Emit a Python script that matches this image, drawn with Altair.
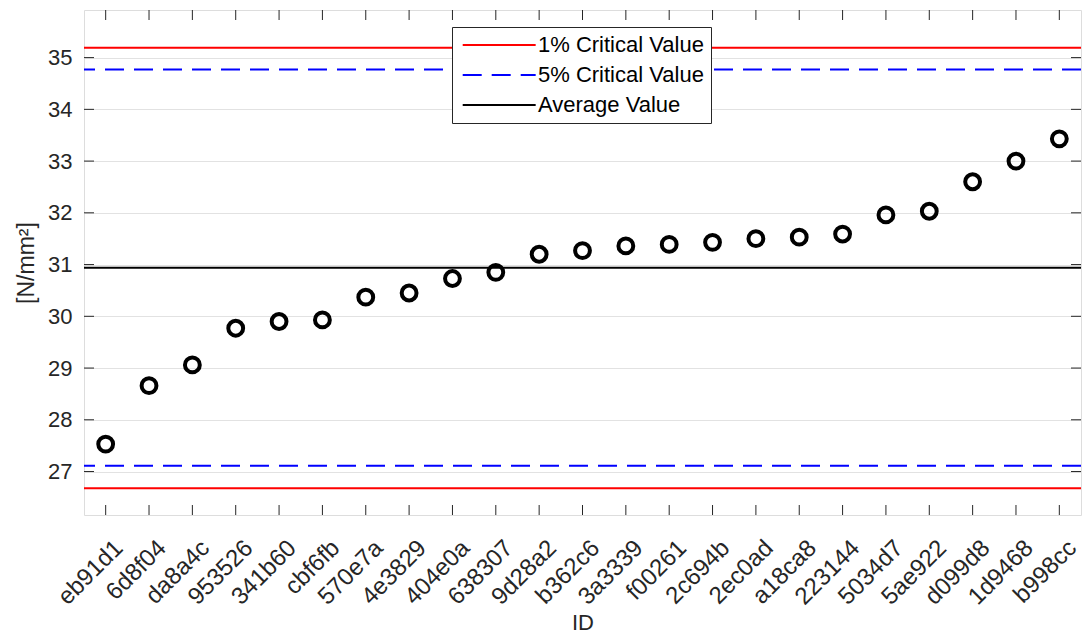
import altair as alt
import pandas as pd

# ---- data ----
ids = ["eb91d1", "6d8f04", "da8a4c", "953526", "341b60", "cbf6fb", "570e7a",
       "4e3829", "404e0a", "638307", "9d28a2", "b362c6", "3a3339", "f00261",
       "2c694b", "2ec0ad", "a18ca8", "223144", "5034d7", "5ae922", "d099d8",
       "1d9468", "b998cc"]
values = [27.53, 28.66, 29.06, 29.77, 29.90, 29.93, 30.37,
          30.45, 30.73, 30.85, 31.20, 31.27, 31.36, 31.39,
          31.43, 31.50, 31.53, 31.59, 31.96, 32.03, 32.60,
          33.00, 33.43]

series_names = ["1% Critical Value", "5% Critical Value", "Average Value"]
crit1 = [35.19, 26.675]
crit5 = [34.77, 27.11]
average = [30.94]
y_ticks = [27, 28, 29, 30, 31, 32, 33, 34, 35]
y_domain = [26.16, 35.92]

# ---- tables ----
pts = pd.DataFrame({"ID": ids, "val": values})
lines = pd.DataFrame({
    "series": [series_names[0]] * len(crit1) + [series_names[1]] * len(crit5)
              + [series_names[2]] * len(average),
    "y": crit1 + crit5 + average,
})
ticks_df = pd.DataFrame({"t": y_ticks})

W, H = 997, 505
FONT = "Liberation Sans"
AX = "#262626"

xscale = alt.Scale(type="point", padding=0.5, domain=ids)
yscale = alt.Scale(domain=y_domain, nice=False, zero=False)

x_enc = alt.X("ID:N", scale=xscale, sort=ids,
              axis=alt.Axis(title="ID", labelAngle=-45, labelAlign="right",
                            labelBaseline="middle", labelPadding=29,
                            labelOffset=13, ticks=False, domain=False,
                            grid=False, labelFontSize=24, titleFontSize=22,
                            labelColor=AX, titleColor=AX, labelFont=FONT,
                            titleFont=FONT, titleFontWeight="normal",
                            titlePadding=3))

y_axis = alt.Axis(title="[N/mm²]", values=y_ticks, ticks=False, domain=False,
                  grid=True, gridColor="#e2e2e2", gridWidth=1,
                  labelFontSize=22, titleFontSize=23, labelPadding=12,
                  labelColor=AX, titleColor=AX, labelFont=FONT, titleFont=FONT,
                  titleFontWeight="normal", titlePadding=9)

ref_lines = alt.Chart(lines).mark_rule(strokeWidth=2).encode(
    y=alt.Y("y:Q", scale=yscale, axis=y_axis),
    color=alt.Color("series:N",
                    scale=alt.Scale(domain=series_names,
                                    range=["#ff0000", "#0000ff", "#000000"]),
                    legend=alt.Legend(title=None, orient="none",
                                      legendX=368, legendY=17,
                                      symbolType="M-1,0H9",
                                      symbolSize=213, symbolStrokeWidth=2,
                                      labelOffset=57, labelFontSize=22,
                                      labelFont=FONT, labelColor="#000000",
                                      rowPadding=8, padding=7,
                                      strokeColor=AX, fillColor="white",
                                      labelLimit=400)),
    strokeDash=alt.StrokeDash("series:N",
                              scale=alt.Scale(domain=series_names,
                                              range=[[1, 0], [19, 10], [1, 0]]),
                              legend=alt.Legend(title=None)),
)

points = alt.Chart(pts).mark_point(shape="circle", filled=False, size=220,
                                   strokeWidth=4, color="black",
                                   opacity=1).encode(
    x=x_enc,
    y=alt.Y("val:Q", scale=yscale),
)

# inward ticks (MATLAB box style)
xt_bottom = alt.Chart(pts).mark_rule(color=AX, strokeWidth=1).encode(
    x=alt.X("ID:N", scale=xscale, sort=ids), y=alt.value(H), y2=alt.value(H - 10))
xt_top = alt.Chart(pts).mark_rule(color=AX, strokeWidth=1).encode(
    x=alt.X("ID:N", scale=xscale, sort=ids), y=alt.value(0), y2=alt.value(10))
yt_left = alt.Chart(ticks_df).mark_rule(color=AX, strokeWidth=1).encode(
    y=alt.Y("t:Q", scale=yscale), x=alt.value(0), x2=alt.value(10))
yt_right = alt.Chart(ticks_df).mark_rule(color=AX, strokeWidth=1).encode(
    y=alt.Y("t:Q", scale=yscale), x=alt.value(W), x2=alt.value(W - 10))

chart = alt.layer(ref_lines, points, xt_bottom, xt_top, yt_left, yt_right).properties(
    width=W, height=H,
    autosize=alt.AutoSizeParams(type="none"),
    padding={"left": 84, "top": 10, "right": 2, "bottom": 119},
).configure_view(stroke=AX, strokeWidth=1).configure(background="white")

chart.save("out.html", embed_options={"renderer": "svg", "actions": False})
